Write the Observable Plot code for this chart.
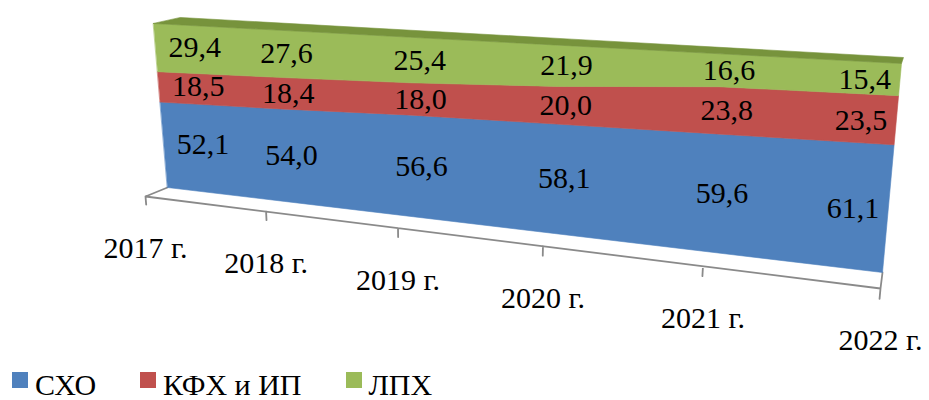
<!DOCTYPE html>
<html><head><meta charset="utf-8">
<script src="https://cdn.jsdelivr.net/npm/d3@7"></script>
<script src="https://cdn.jsdelivr.net/npm/@observablehq/plot@0.6"></script>
</head><body style="margin:0;background:#fff;font-family:'Times New Roman','Liberation Serif',serif">
<div id="chart"></div>
<div id="legend" style="display:flex;padding-left:12px;font-size:30px;line-height:30px;color:#000;height:30px;white-space:nowrap;font-family:'Times New Roman','Liberation Serif',serif"></div>
<script>
// ---- data ----
const years = [2017, 2018, 2019, 2020, 2021, 2022];
const yearLabels = ["2017 г.", "2018 г.", "2019 г.", "2020 г.", "2021 г.", "2022 г."];
const seriesNames = ["СХО", "КФХ и ИП", "ЛПХ"];
const sxo = [52.1, 54.0, 56.6, 58.1, 59.6, 61.1];
const kfh = [18.5, 18.4, 18.0, 20.0, 23.8, 23.5];
const lph = [29.4, 27.6, 25.4, 21.9, 16.6, 15.4];
const seriesValues = [sxo, kfh, lph];
const colors = ["#4F81BD", "#C0504D", "#9BBB59"];
const topColor = "#77933C";
const gridColor = "#8a8a8a";
const FONT = "'Times New Roman', 'Liberation Serif', serif";

// ---- 3D-ish projection (layout) ----
const B = -0.215; // perspective foreshortening along the category axis
const planes = {
  "-1": {Lb: [145, 196], Lt: [131, 32], Rb: [880, 288], Rt: [899, 79]},
  "0":  {Lb: [167, 187], Lt: [153, 23], Rb: [882, 272], Rt: [901, 63]},
  "1":  {Lb: [194, 181], Lt: [180, 17], Rb: [884, 266], Rt: [903, 57]}
};
const DEPTH = 1000;
const mid = (d3.min(years) + d3.max(years)) / 2;
const tScale = d3.scaleLinear().domain(d3.extent(years)).range([0, 1]);
const vScale = d3.scaleLinear().domain([0, 100]).range([0, 1]);
const enc = (year, z) => year + DEPTH * z;
function project(x, y) {
  const z = Math.round((x - mid) / DEPTH);
  const t = tScale(x - DEPTH * z);
  const s = (1 + B) * t / (1 + B * t);
  const p = planes[String(z)];
  const u = vScale(y);
  const lx = p.Lb[0] + (p.Lt[0] - p.Lb[0]) * u, ly = p.Lb[1] + (p.Lt[1] - p.Lb[1]) * u;
  const rx = p.Rb[0] + (p.Rt[0] - p.Rb[0]) * u, ry = p.Rb[1] + (p.Rt[1] - p.Rb[1]) * u;
  return [lx + (rx - lx) * s, ly + (ry - ly) * s];
}
const projection = d3.geoTransform({
  point(x, y) { const [px, py] = project(x, y); this.stream.point(px, py); }
});

// ---- build stacked geometry from data ----
const rows = years.map((year, i) => {
  const r = {year};
  seriesNames.forEach((n, k) => r[n] = seriesValues[k][i]);
  return r;
});
const stacked = d3.stack().keys(seriesNames)(rows);
const bands = stacked.map((layer, k) => {
  const bottom = layer.map((d, i) => [enc(years[i], 0), d[0]]);
  const top = layer.map((d, i) => [enc(years[i], 0), d[1]]).reverse();
  const ring = [...bottom, ...top, bottom[0]];
  return {type: "Feature", properties: {name: seriesNames[k], color: colors[k]},
          geometry: {type: "Polygon", coordinates: [ring]}};
});
const topMax = stacked[stacked.length - 1];
const topFront = topMax.map((d, i) => [enc(years[i], 0), d[1]]);
const topBack = topMax.map((d, i) => [enc(years[i], 1), d[1]]).reverse();
const topFace = {type: "Feature", geometry: {type: "Polygon", coordinates: [[...topFront, ...topBack, topFront[0]]]}};

const x0 = d3.min(years), x1 = d3.max(years);
const floor = {type: "Feature", geometry: {type: "MultiLineString", coordinates: [
  [[enc(x0, -1), 0], [enc(x1, -1), 0]],
  [[enc(x0, -1), 0], [enc(x0, 0), 0]],
  [[enc(x1, -1), 0], [enc(x1, 0), 0]],
  ...years.map(y => [[enc(y, -1), 0], [enc(y, -1), -5]])
]}};

const labels = [];
stacked.forEach((layer, k) => layer.forEach((d, i) => {
  labels.push({year: years[i], i, v: seriesValues[k][i], m: (d[0] + d[1]) / 2});
}));
const fmt = v => v.toFixed(1).replace(".", ",");
const last = years.length - 1;

const chart = Plot.plot({
  width: 929,
  height: 370,
  projection,
  style: {fontFamily: FONT, background: "white", color: "black"},
  marks: [
    Plot.geo([floor], {stroke: gridColor, strokeWidth: 1.8, fill: "none"}),
    Plot.geo(bands, {fill: d => d.properties.color, stroke: d => d.properties.color, strokeWidth: 0.6}),
    Plot.geo([topFace], {fill: topColor, stroke: topColor, strokeWidth: 0.6}),
    Plot.text(labels.filter(d => d.i === 0), {x: d => enc(d.year, 0), y: "m", text: d => fmt(d.v), fontSize: 30, fontFamily: FONT, fill: "black", textAnchor: "start", dx: 13}),
    Plot.text(labels.filter(d => d.i > 0 && d.i < last), {x: d => enc(d.year, 0), y: "m", text: d => fmt(d.v), fontSize: 30, fontFamily: FONT, fill: "black", dx: 9}),
    Plot.text(labels.filter(d => d.i === last), {x: d => enc(d.year, 0), y: "m", text: d => fmt(d.v), fontSize: 30, fontFamily: FONT, fill: "black", textAnchor: "end", dx: -9}),
    Plot.text(years, {x: d => enc(d, -1), y: () => 0, text: (d, i) => yearLabels[i], fontSize: 30, fontFamily: FONT, fill: "black", dy: 52})
  ]
});
document.getElementById("chart").appendChild(chart);

const legend = document.getElementById("legend");
seriesNames.forEach((n, k) => {
  const item = document.createElement("span");
  item.style.marginRight = "44px";
  const sw = document.createElement("span");
  Object.assign(sw.style, {display: "inline-block", width: "16px", height: "16px", marginRight: "7px", verticalAlign: "7px", background: colors[k]});
  item.appendChild(sw);
  item.appendChild(document.createTextNode(n));
  legend.appendChild(item);
});
</script>
</body></html>
